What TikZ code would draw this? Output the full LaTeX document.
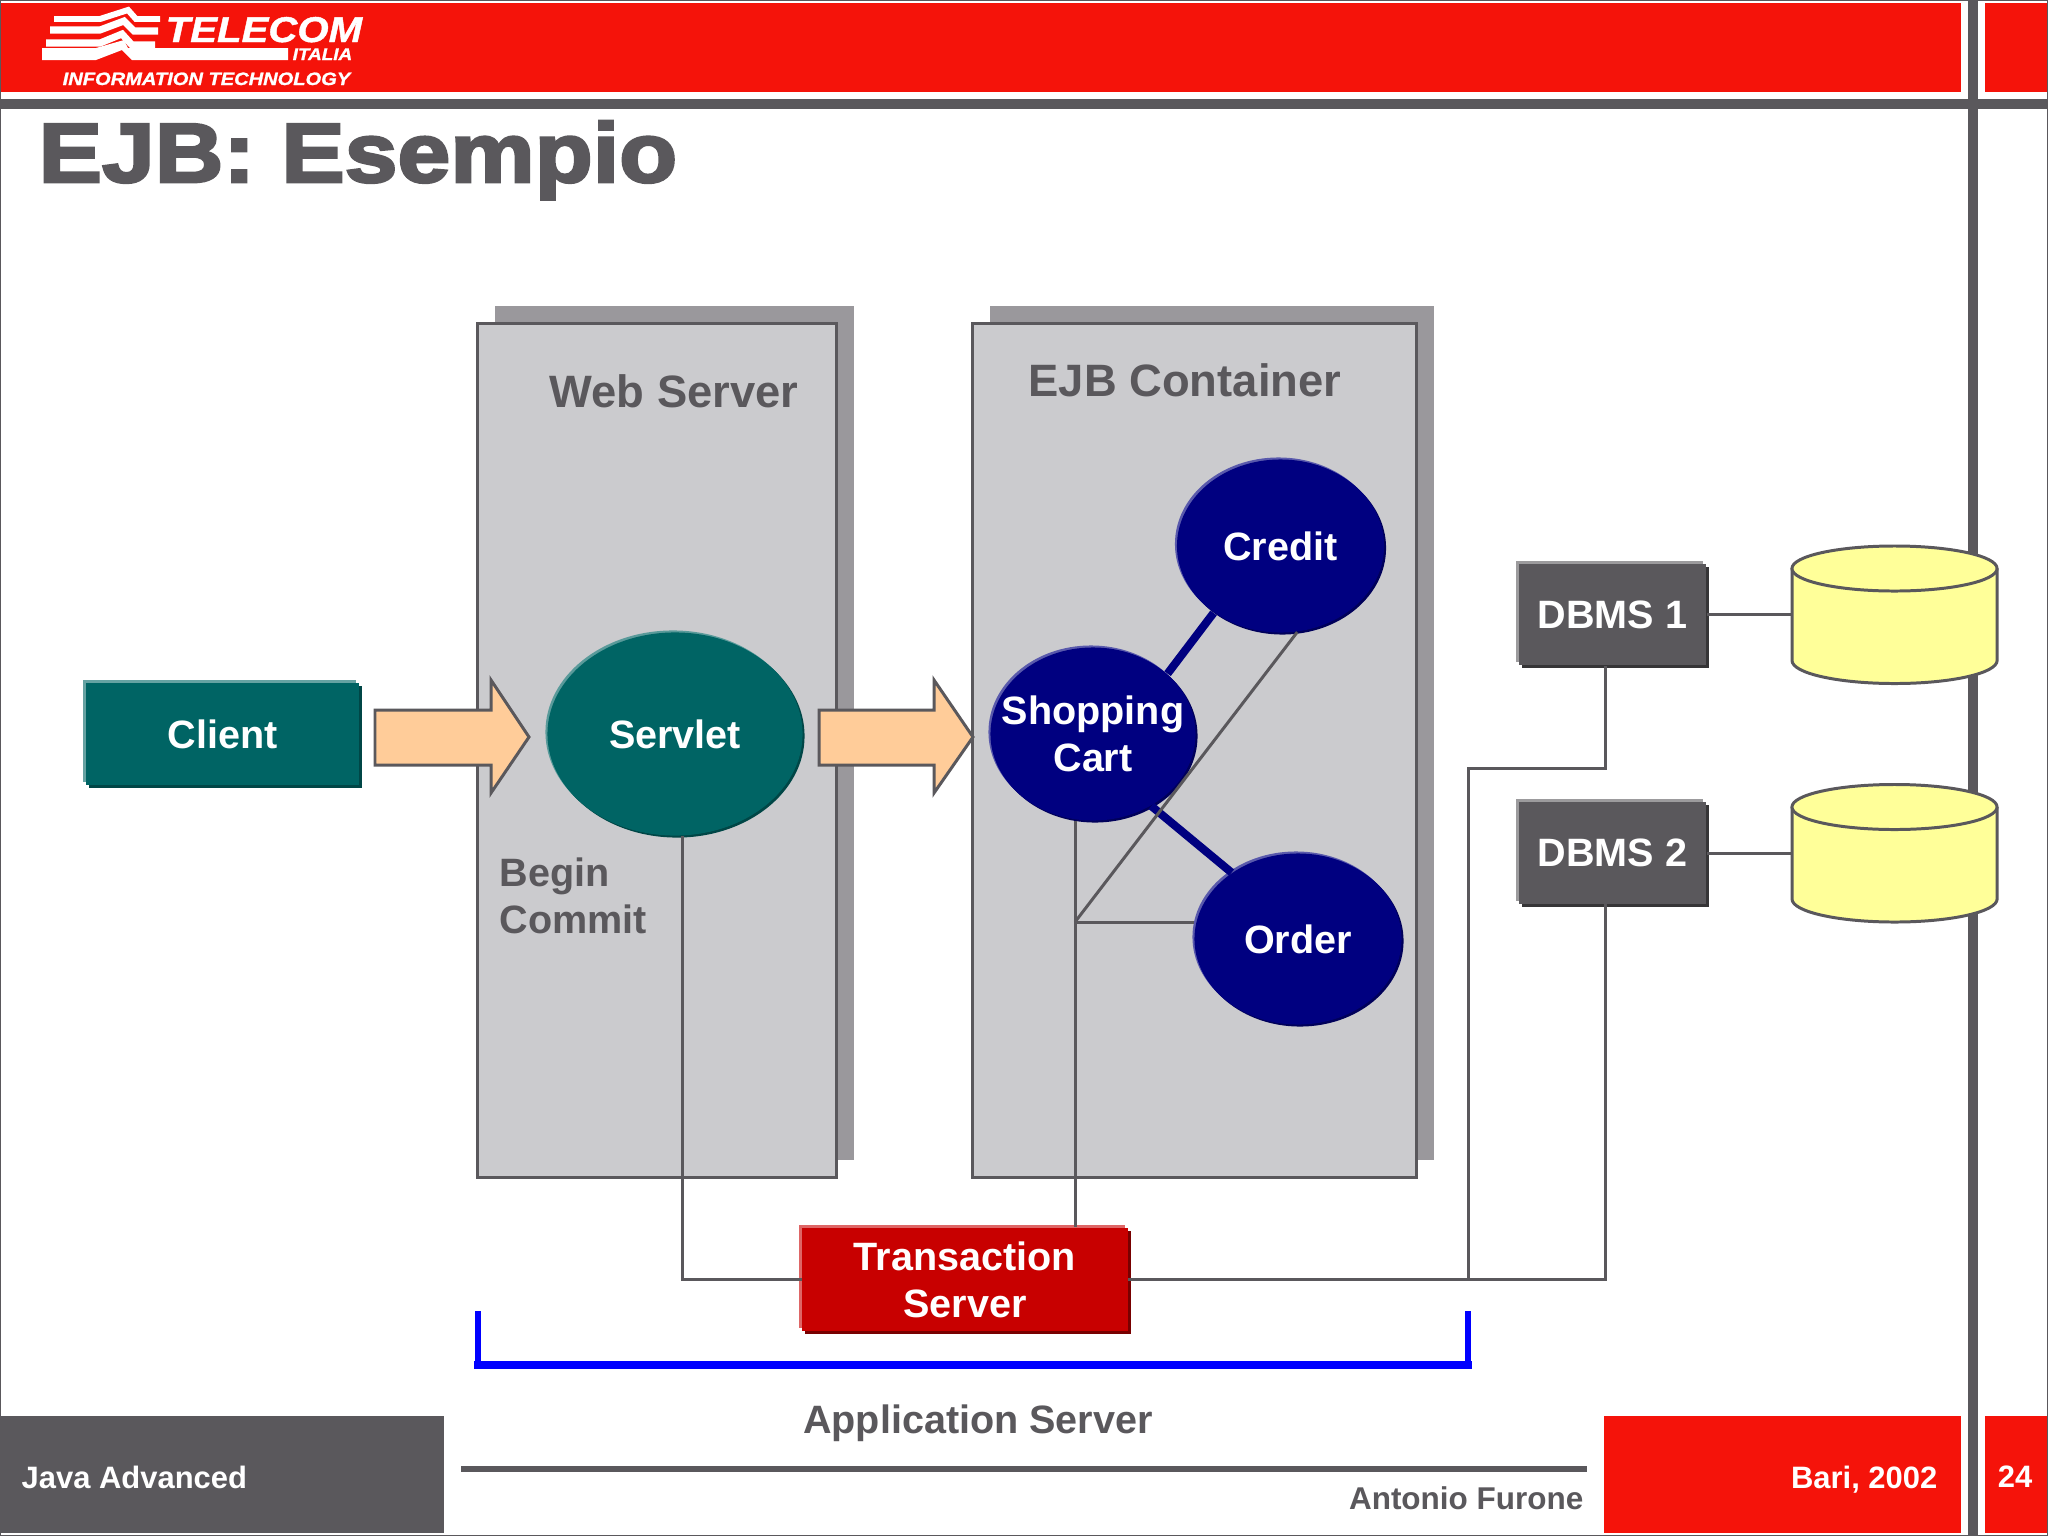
\documentclass[tikz,border=0pt]{standalone}
\usepackage{fontspec}
\setmainfont{Liberation Sans}
\newfontfamily\titlefont[FakeBold=3.2,FakeStretch=1.13]{Liberation Sans Bold}
\newfontfamily\logofont[FakeBold=1.2,FakeStretch=1.12]{Liberation Sans Bold Italic}
\usetikzlibrary{shapes.geometric,shadows}
\definecolor{slate}{HTML}{5A585C}
\definecolor{telred}{HTML}{F5130A}
\definecolor{panel}{HTML}{CBCBCE}
\definecolor{panelback}{HTML}{9A989C}
\definecolor{teal}{HTML}{006464}
\definecolor{navy}{HTML}{000080}
\definecolor{tsred}{HTML}{C80000}
\definecolor{peach}{HTML}{FFCC99}
\definecolor{pale}{HTML}{FFFF99}
\definecolor{pureblue}{HTML}{0000FF}
\tikzset{
	wire/.style={draw=slate, line width=0.85pt},
	link/.style={draw=navy, line width=2.3pt},
	box label/.style={text=white, align=center, font=\fontsize{11.25}{13.37}\selectfont\bfseries, inner sep=0pt},
	grey label/.style={text=slate, font=\fontsize{11.25}{13.37}\selectfont\bfseries, inner sep=0pt},
	foot label/.style={text=white, font=\fontsize{8.8}{10.5}\selectfont\bfseries, inner sep=0pt},
	bevel/.style n args={2}{
		general shadow={fill=#1, shadow xshift=-0.03cm, shadow yshift=0.03cm},
		general shadow={fill=#2, shadow xshift=0.03cm, shadow yshift=-0.03cm}},
	block/.style={box label, rectangle, minimum height=1.01cm},
	bubble/.style={box label, ellipse, inner xsep=-0.4cm, inner ysep=-0.2cm, general shadow={fill=#1!65!white, shadow xshift=-0.02cm, shadow yshift=0.02cm}, general shadow={fill=#1!70!black, shadow xshift=0.02cm, shadow yshift=-0.02cm}, fill=#1},
	server/.style={rectangle, draw=slate, line width=0.85pt, fill=panel, minimum height=8.53cm, general shadow={fill=panelback, shadow xshift=0.175cm, shadow yshift=0.175cm}},
	fat arrow/.style={draw=slate, line width=0.85pt, fill=peach},
	disc/.style={draw=slate, line width=0.85pt, fill=pale},
}
\begin{document}
\begin{tikzpicture}[x=0.01cm, y=-0.01cm]
	\useasboundingbox (0,0) rectangle (2048,1536);
	%%% Cornice
	\fill[white] (0,0) rectangle (2048,1536);
	\fill[telred] (0,3) rectangle (1961,92);
	\fill[telred] (1985,3) rectangle (2048,92);
	\fill[telred] (1604,1416) rectangle (1961,1533);
	\fill[telred] (1985,1416) rectangle (2048,1533);
	\fill[slate] (0,1416) rectangle (444,1533);
	\fill[slate] (0,99) rectangle (2048,109);
	\fill[slate] (1968,0) rectangle (1978,1536);
	\fill[slate] (461,1466) rectangle (1587,1472);
	\draw[slate, line width=0.85pt] (0,0) rectangle (2048,1536);
	%%% Logo
	\draw[white, line width=1.7pt] (54,19) -- (100,19) -- (128,10) -- (136,19) -- (160,19);
	\draw[white, line width=2pt] (50,30) -- (100,30) -- (124,21) -- (134,31) -- (158,31);
	\draw[white, line width=2pt] (46,43) -- (100,43) -- (122,34) -- (132,45) -- (155,45);
	\fill[white] (42,48) -- (96,48) -- (124,40) -- (128,48) -- (288,48) -- (288,60) -- (132,60) -- (122,50) -- (96,60) -- (42,60) -- cycle;
	\node[text=white, anchor=base west, inner sep=0pt, font=\fontsize{10.2}{12}\logofont] (telecom) at (165,42) {TELECOM};
	\node[text=white, anchor=base west, inner sep=0pt, font=\fontsize{4.8}{5}\logofont] (italia) at (292,60) {ITALIA};
	\node[text=white, anchor=base west, inner sep=0pt, font=\fontsize{5.1}{7}\logofont] (infotech) at (62,85) {INFORMATION TECHNOLOGY};
	%%% Titolo
	\node[text=slate, anchor=base west, inner sep=0pt, font=\fontsize{23.9}{28}\titlefont] (title) at (38,182) {EJB: Esempio};
	%%% Contenitori
	\node[server, minimum width=3.58cm] (web) at (657,750.5) {};
	\node[server, minimum width=4.43cm] (ejb) at (1194.5,750.5) {};
	\node[grey label, font=\fontsize{12.9}{15}\selectfont\bfseries] (weblabel) at (674,391) {Web Server};
	\node[grey label, font=\fontsize{12.9}{15}\selectfont\bfseries] (ejblabel) at (1185,380) {EJB Container};
	\node[grey label, anchor=west, align=left] (begin) at (499,896) {Begin\\Commit};
	%%% Client e frecce
	\node[block, bevel={teal!60!white}{teal!70!black}, fill=teal, minimum width=2.73cm] (client) at (222.5,734) {Client};
	\draw[fat arrow] (375,710) -- (491,710) -- (491,680) -- (529,737) -- (491,793) -- (491,765) -- (375,765) -- cycle;
	\draw[fat arrow] (819,710) -- (934,710) -- (934,680) -- (973,737) -- (934,793) -- (934,765) -- (819,765) -- cycle;
	%%% Bean
	\node[bubble=teal, minimum width=2.55cm, minimum height=2.03cm] (servlet) at (675,734) {Servlet};
	\coordinate (cartpos) at (1093,734);
	\coordinate (creditpos) at (1280.5,546);
	\coordinate (orderpos) at (1298,939);
	\node[bubble=navy, minimum width=2.05cm, minimum height=1.73cm] (cart) at (cartpos) {Shopping\\Cart};
	\node[bubble=navy, minimum width=2.07cm, minimum height=1.73cm] (credit) at (creditpos) {Credit};
	\node[bubble=navy, minimum width=2.07cm, minimum height=1.71cm] (order) at (orderpos) {Order};
	\draw[link] (cart.39) -- (credit.225);
	\draw[link] (cart.-51) -- (order.135);
	%%% DBMS
	\node[block, bevel={slate!60!white}{slate!60!black}, fill=slate, minimum width=1.87cm] (dbmsa) at (1612.5,614.5) {DBMS 1};
	\node[block, bevel={slate!60!white}{slate!60!black}, fill=slate, minimum width=1.87cm] (dbmsb) at (1612.5,853) {DBMS 2};
	%%% Dischi
	\foreach \y/\name in {614.5/disca, 853/discb} {
		\coordinate (\name) at (1792,\y);
		\draw[disc] (1792,\y-46) -- (1792,\y+46) arc[start angle=180, end angle=360, x radius=1.025cm, y radius=0.23cm] -- (1997,\y-46);
		\draw[disc] (1894.5,\y-46) ellipse[x radius=1.025cm, y radius=0.225cm];
	}
	\draw[wire] (dbmsa.east) -- (disca);
	\draw[wire] (dbmsb.east) -- (discb);
	%%% Transaction Server
	\node[block, bevel={tsred!60!white}{tsred!60!black}, fill=tsred, minimum width=3.25cm, minimum height=1.03cm] (tserver) at (965,1279.5) {Transaction\\Server};
	\coordinate (junction) at (1075,922);
	\coordinate (branch) at (1468,1279.5);
	\coordinate (bendup) at (1468,768);
	\draw[wire] (servlet.-86) |- (tserver.west);
	\draw[wire] (junction |- cart.south) -- (junction);
	\draw[wire] (junction) -- (junction |- tserver.north);
	\draw[wire] (junction) -- (junction -| order.west);
	\draw[wire] (junction) -- (credit.-79);
	\draw[wire] (tserver.east) -| (dbmsb.-98);
	\draw[wire] (branch) -- (bendup) -| (dbmsa.-98);
	%%% Application Server
	\draw[pureblue, line width=1.6pt] (478,1311) -- (478,1365);
	\draw[pureblue, line width=1.6pt] (1468,1311) -- (1468,1365);
	\fill[pureblue] (474,1361) rectangle (1472,1369);
	\node[grey label] (appserver) at (978,1423) {Application Server};
	%%% Piede
	\node[foot label, anchor=west] (course) at (21,1477) {Java Advanced};
	\node[grey label, font=\fontsize{8.95}{11}\selectfont\bfseries, anchor=east] (speaker) at (1584,1498) {Antonio Furone};
	\node[foot label, anchor=east] (place) at (1938,1480) {Bari, 2002};
	\node[foot label] (pageno) at (2015,1477) {24};
\end{tikzpicture}
\end{document}
